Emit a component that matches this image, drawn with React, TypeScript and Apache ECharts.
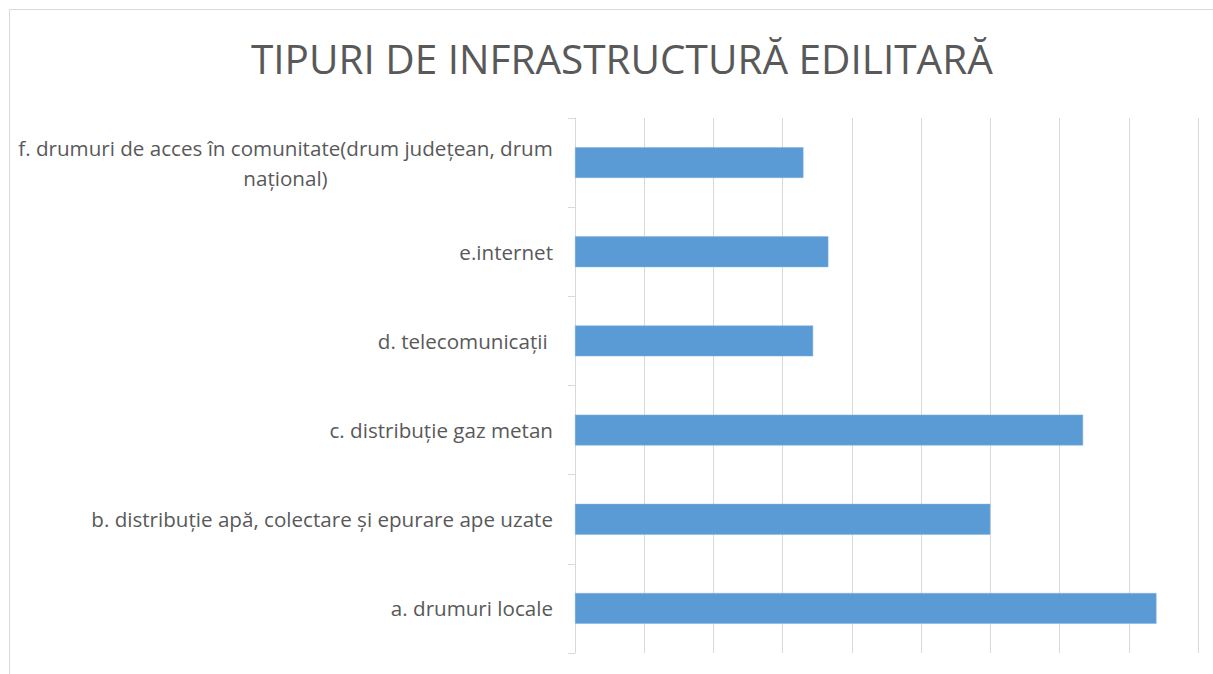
import React, { useEffect, useRef } from "react";
import * as echarts from "echarts";

const categories = [
  "a. drumuri locale",
  "b. distribuție apă, colectare și epurare ape uzate",
  "c. distribuție gaz metan",
  "d. telecomunicații ",
  "e.internet",
  "f. drumuri de acces în comunitate(drum județean, drum\nnațional)",
];
const values = [42, 30, 36.7, 17.2, 18.3, 16.5];
const titleText = "TIPURI DE INFRASTRUCTURĂ EDILITARĂ";

export default function App() {
  const ref = useRef<HTMLDivElement>(null);
  useEffect(() => {
    document.body.style.margin = "0";
    const chart = echarts.init(ref.current!, null, { renderer: "svg" });
    chart.setOption({
      animation: false,
      backgroundColor: "#ffffff",
      textStyle: { fontFamily: "Open Sans" },
      title: {
        text: titleText,
        left: 246,
        top: 33,
        textStyle: {
          fontFamily: "Open Sans",
          fontSize: 40.5,
          fontWeight: "normal",
          color: "#595959",
        },
      },
      graphic: [
        {
          type: "rect",
          shape: { x: 9.5, y: 9.5, width: 1300, height: 800 },
          style: { fill: "none", stroke: "#d9d9d9", lineWidth: 1 },
          silent: true,
          z: -10,
        },
      ],
      grid: { left: 575, right: 15, top: 118, bottom: 21, containLabel: false },
      xAxis: {
        type: "value",
        min: 0,
        max: 45,
        interval: 5,
        axisLabel: { show: false },
        axisLine: { show: false },
        axisTick: { show: false },
        splitLine: { show: true, lineStyle: { color: "#d9d9d9", width: 1 } },
      },
      yAxis: {
        type: "category",
        data: categories,
        axisLine: { show: true, lineStyle: { color: "#d9d9d9" } },
        axisTick: { show: true, length: 7, lineStyle: { color: "#d9d9d9" } },
        axisLabel: {
          color: "#595959",
          fontSize: 20.6,
          fontFamily: "Open Sans",
          margin: 22,
          lineHeight: 30,
          formatter: (v: string) => {
            if (v.indexOf("\n") >= 0) {
              return v
                .split("\n")
                .map((s) => "{c|" + s + "}")
                .join("\n");
            }
            return v;
          },
          rich: {
            c: {
              width: 535,
              align: "center",
              fontSize: 20.6,
              lineHeight: 30,
              color: "#595959",
              fontFamily: "Open Sans",
            },
          },
        },
      },
      series: [
        {
          type: "bar",
          data: values,
          barWidth: "34.5%",
          itemStyle: { color: "#5B9BD5", borderColor: "#7fb0de", borderWidth: 0.5 },
        },
      ],
    });
    return () => chart.dispose();
  }, []);
  return <div ref={ref} style={{ width: 1213, height: 674 }} />;
}
